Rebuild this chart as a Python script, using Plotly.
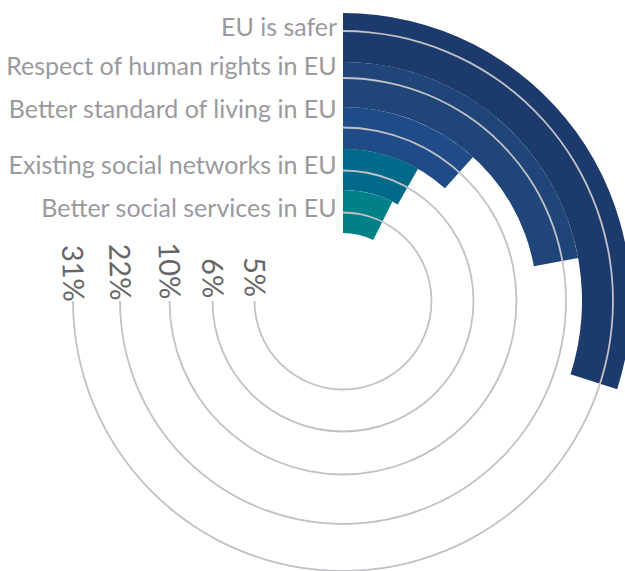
import plotly.graph_objects as go

# ---- data ----
categories = [
    "EU is safer",
    "Respect of human rights in EU",
    "Better standard of living in EU",
    "Existing social networks in EU",
    "Better social services in EU",
]
values = [31, 22, 10, 6, 5]
value_labels = ["31%", "22%", "10%", "6%", "5%"]

# ---- styling / geometry ----
BAR_COLORS = ["#1c3a6c", "#1f4579", "#1f4c86", "#006a8a", "#00818a"]
RING_OUTER = [288, 239, 194, 152, 111]
RING_INNER = [239, 194, 152, 111, 68]
LINE_R = [270, 223, 173.5, 130.5, 88.5]
LABEL_R = [271, 232, 189.5, 133.5, 90]
LINE_COLOR = "#c2c2c6"
FONT = "Lato"
CENTER_X = 343   # px from the left of the page
CENTER_Y = 301   # px from the top of the page

# angular scale (value -> degrees)
DEG_OFFSET = 10.8
DEG_PER_PCT = 3.13
spans = [DEG_OFFSET + DEG_PER_PCT * v for v in values]

fig = go.Figure()

fig.add_trace(go.Barpolar(
    theta=[0] * len(values),
    offset=[0] * len(values),
    width=spans,
    base=RING_INNER,
    r=[o - i for o, i in zip(RING_OUTER, RING_INNER)],
    marker=dict(color=BAR_COLORS, line=dict(width=0)),
    hoverinfo="skip",
))

fig.add_trace(go.Barpolar(
    theta=[0] * len(LINE_R),
    offset=[0] * len(LINE_R),
    width=[270] * len(LINE_R),
    base=[r - 0.9 for r in LINE_R],
    r=[1.8] * len(LINE_R),
    marker=dict(color=LINE_COLOR, line=dict(width=0)),
    hoverinfo="skip",
))

fig.add_trace(go.Scatterpolar(
    theta=[0] * len(categories),
    r=LABEL_R,
    mode="text",
    text=[c + "\u00a0" for c in categories],
    textposition="middle left",
    textfont=dict(family=FONT, size=25, color="#9a9a9e"),
    cliponaxis=False,
    hoverinfo="skip",
))

radius_px = min(CENTER_X, CENTER_Y)

fig.update_layout(
    width=2 * CENTER_X,
    height=2 * CENTER_Y,
    margin=dict(l=0, r=0, t=0, b=0),
    paper_bgcolor="white",
    showlegend=False,
    polar=dict(
        domain=dict(x=[0, 1], y=[0, 1]),
        bgcolor="white",
        barmode="overlay",
        angularaxis=dict(rotation=90, direction="clockwise", visible=False),
        radialaxis=dict(
            range=[0, radius_px],
            tickmode="array",
            tickvals=LINE_R,
            ticktext=value_labels,
            angle=181.5,
            side="clockwise",
            tickangle=-90,
            tickfont=dict(family=FONT, size=29, color="#666666"),
            showline=False,
            showgrid=False,
            ticks="",
        ),
    ),
)

fig.write_html(
    "out.html",
    config={"displayModeBar": False},
    post_script=(
        "document.documentElement.style.overflow='hidden';"
        "document.body.style.overflow='hidden';"
        "document.body.style.margin='0';"
    ),
)
